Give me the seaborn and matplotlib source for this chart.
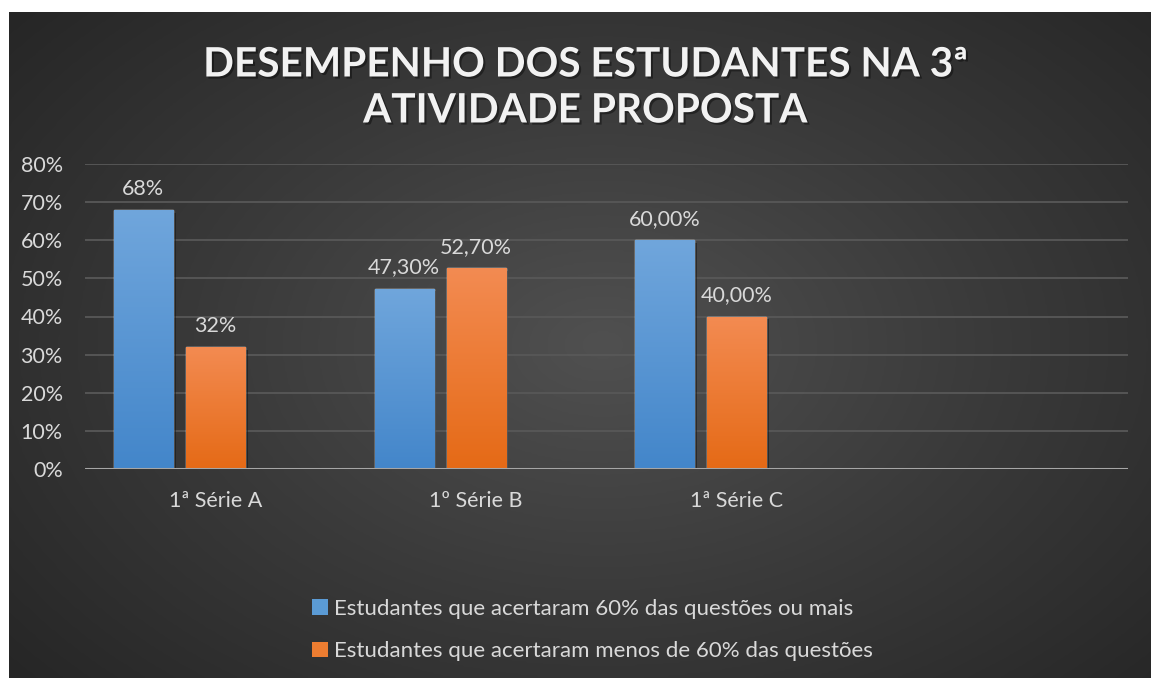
import numpy as np
import pandas as pd
import matplotlib
matplotlib.use("Agg")
import matplotlib.pyplot as plt
import matplotlib.patheffects as pe
from matplotlib.patches import Patch
from matplotlib.colors import LinearSegmentedColormap
import seaborn as sns

# ---- data ----
turmas = ["1ª Série A", "1º Série B", "1ª Série C", ""]
acima_60 = [0.68, 0.473, 0.60, np.nan]
abaixo_60 = [0.32, 0.527, 0.40, np.nan]
reserva = [np.nan, np.nan, np.nan, np.nan]
casas_decimais = [0, 2, 2, 0]
serie_nomes = [
    "Estudantes que acertaram 60% das questões ou mais",
    "Estudantes que acertaram menos de 60% das questões",
    " ",
]
yticks = [0, 0.1, 0.2, 0.3, 0.4, 0.5, 0.6, 0.7, 0.8]
titulo = "DESEMPENHO DOS ESTUDANTES NA 3ª\nATIVIDADE PROPOSTA"

df = pd.DataFrame({
    "turma": turmas * 3,
    "serie": [serie_nomes[0]] * 4 + [serie_nomes[1]] * 4 + [serie_nomes[2]] * 4,
    "valor": acima_60 + abaixo_60 + reserva,
})

sns.set_theme(style="dark")
plt.rcParams["font.family"] = ["Lato", "DejaVu Sans"]

W, H = 1151, 678
fig = plt.figure(figsize=(W / 100, H / 100), dpi=100)
fig.patch.set_facecolor("white")

# dark panel with a radial gradient
bg_ax = fig.add_axes([9 / W, 0, 1 - 9 / W, 1 - 12 / H])
bg_ax.set_axis_off()
yy, xx = np.mgrid[0:1:400j, 0:1:700j]
r = np.sqrt(((xx - 0.52) / 0.75) ** 2 + ((yy - 0.5) / 0.85) ** 2)
r = np.clip(r, 0, 1)
bg_cmap = LinearSegmentedColormap.from_list("bg", ["#505050", "#3a3a3a", "#262626"])
bg_ax.imshow(r, cmap=bg_cmap, aspect="auto", extent=[0, 1, 0, 1], origin="lower",
             interpolation="bicubic")
bg_ax.set_xlim(0, 1)
bg_ax.set_ylim(0, 1)

# chart area
ax = fig.add_axes([85 / W, 1 - 469 / H, (1128 - 85) / W, (469 - 164) / H])
ax.set_facecolor("none")

palette = {serie_nomes[0]: "#5b9bd5", serie_nomes[1]: "#ed7d31", serie_nomes[2]: "#a5a5a5"}
sns.barplot(data=df, x="turma", y="valor", hue="serie", order=turmas,
            hue_order=serie_nomes, palette=palette, width=0.828, gap=0.18,
            ax=ax, legend=False, errorbar=None, saturation=1, zorder=3)

ax.set_ylim(0, 0.8)
ax.set_xlim(-0.5, 3.5)
ax.set_yticks(yticks)
ax.set_yticklabels([f"{int(round(t * 100))}%" for t in yticks])
ax.set_xlabel("")
ax.set_ylabel("")
for s in ax.spines.values():
    s.set_visible(False)
ax.grid(False)
for t in yticks[1:]:
    ax.axhline(t, color="#585858", lw=1.3, zorder=1)
ax.axhline(0, color="#a6a6a6", lw=2.2, zorder=4)
ax.tick_params(axis="both", length=0, colors="#d9d9d9", labelsize=15.5)
ax.tick_params(axis="y", pad=16)
ax.tick_params(axis="x", pad=16)

gradientes = {"#5b9bd5": ("#70a6dc", "#4386ca"), "#ed7d31": ("#f38b52", "#e56a16")}
grad = np.linspace(0, 1, 256).reshape(-1, 1)

bar_patches = []
for patch in list(ax.patches):
    h = patch.get_height()
    if not np.isfinite(h) or h <= 0:
        continue
    bar_patches.append(patch)
    fc = matplotlib.colors.to_hex(patch.get_facecolor())
    c_top, c_bot = gradientes.get(fc, (fc, fc))
    cmap = LinearSegmentedColormap.from_list("g" + fc, [c_bot, c_top])
    x0 = patch.get_x()
    w = patch.get_width()
    patch.set_path_effects([pe.SimplePatchShadow(offset=(2, -2), shadow_rgbFace="#111111", alpha=0.5),
                            pe.Normal()])
    img = ax.imshow(grad, cmap=cmap, aspect="auto", origin="lower",
                    extent=[x0, x0 + w, 0, h], zorder=3.5)
    img.set_clip_path(patch)

# value labels, placed on the bar drawn for each value
for vals in [acima_60, abaixo_60]:
    for j, v in enumerate(vals):
        if not np.isfinite(v):
            continue
        cands = [p for p in bar_patches
                 if abs(p.get_x() + p.get_width() / 2 - j) < 0.5 and abs(p.get_height() - v) < 1e-9]
        p = cands[0]
        txt = f"{v * 100:.{casas_decimais[j]}f}%".replace(".", ",")
        ax.annotate(txt, (p.get_x() + p.get_width() / 2, v), xytext=(0, 8),
                    textcoords="offset points", ha="center", va="bottom",
                    color="#d9d9d9", fontsize=15.5, zorder=6)
ax.set_xlim(-0.5, 3.5)
ax.set_ylim(0, 0.8)

# title
fig.text(585 / W, 1 - 88 / H, titulo, ha="center", va="center", color="#f2f2f2",
         fontsize=29.2, fontweight="bold", family=["Lato", "DejaVu Sans"],
         linespacing=1.3,
         path_effects=[pe.withSimplePatchShadow(offset=(1.5, -1.5), shadow_rgbFace="black", alpha=0.4)])

# legend
handles = [Patch(facecolor="#5b9bd5", edgecolor="none", label=serie_nomes[0]),
           Patch(facecolor="#ed7d31", edgecolor="none", label=serie_nomes[1])]
leg = fig.legend(handles=handles, loc="upper left",
                 bbox_to_anchor=(292 / W, 1 - 579 / H), frameon=False,
                 fontsize=16, handlelength=0.7, handleheight=0.7,
                 handletextpad=0.3, labelspacing=1.0)
for t in leg.get_texts():
    t.set_color("#d9d9d9")

fig.savefig("out.png", dpi=100, facecolor=fig.get_facecolor())
